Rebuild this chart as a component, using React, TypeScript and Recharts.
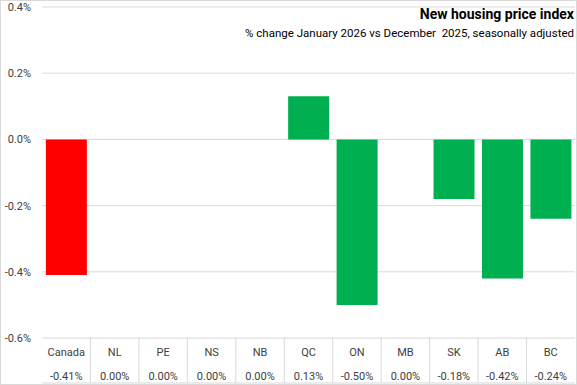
import React from 'react';
import { BarChart, Bar, Cell, XAxis, YAxis, CartesianGrid } from 'recharts';

const provinces = ['Canada', 'NL', 'PE', 'NS', 'NB', 'QC', 'ON', 'MB', 'SK', 'AB', 'BC'];
const monthlyChange = [-0.41, 0.0, 0.0, 0.0, 0.0, 0.13, -0.5, 0.0, -0.18, -0.42, -0.24];
const yTicks = [-0.6, -0.4, -0.2, 0, 0.2, 0.4];

const chartData = provinces.map((p, i) => ({ name: p, change: monthlyChange[i] }));

const WIDTH = 577;
const HEIGHT = 385;
const Y_AXIS_W = 42;
const RIGHT = 2;
const BAND = (WIDTH - Y_AXIS_W - RIGHT) / provinces.length;
const FONT = 'Roboto, "Noto Sans", sans-serif';

const TableTick = (props: any) => {
  const { x, y, payload, index } = props;
  const half = BAND / 2;
  const v = monthlyChange[index];
  return (
    <g>
      <text x={x} y={y + 18} textAnchor="middle" fontSize={11} fill="#404040" fontFamily={FONT}>
        {payload.value}
      </text>
      <text x={x} y={y + 42} textAnchor="middle" fontSize={11} fill="#404040" fontFamily={FONT}>
        {v.toFixed(2) + '%'}
      </text>
      {index < provinces.length - 1 && (
        <line x1={x + half} x2={x + half} y1={y} y2={y + 45} stroke="#d9d9d9" />
      )}
      <line x1={x - half} x2={x + half} y1={y + 45} y2={y + 45} stroke="#d9d9d9" />
    </g>
  );
};

export default function App() {
  return (
    <div
      style={{
        position: 'absolute',
        left: 0,
        top: 0,
        width: WIDTH,
        height: HEIGHT,
        boxSizing: 'border-box',
        border: '1px solid #d9d9d9',
        background: '#fff',
        fontFamily: FONT,
      }}
    >
      <BarChart
        width={WIDTH - 2}
        height={HEIGHT - 2}
        data={chartData}
        margin={{ top: 6, right: RIGHT - 1, left: -1, bottom: 1 }}
        barCategoryGap="8%"
        style={{ position: 'absolute', left: 0, top: 0 }}
      >
        <CartesianGrid vertical={false} stroke="#d9d9d9" />
        <YAxis
          width={Y_AXIS_W}
          domain={[-0.6, 0.4]}
          ticks={yTicks}
          axisLine={false}
          tickLine={false}
          tickSize={0}
          tickMargin={11}
          tick={{ fontSize: 11, fill: '#404040', fontFamily: FONT }}
          tickFormatter={(v: number) => v.toFixed(1) + '%'}
          interval={0}
        />
        <XAxis
          dataKey="name"
          height={45}
          axisLine={false}
          tickLine={false}
          tickSize={0}
          tickMargin={0}
          interval={0}
          tick={<TableTick />}
        />
        <Bar dataKey="change" isAnimationActive={false}>
          {chartData.map((d, i) => (
            <Cell key={d.name} fill={i === 0 ? '#ff0000' : '#00b050'} />
          ))}
        </Bar>
      </BarChart>
      <div
        style={{
          position: 'absolute',
          right: 2,
          top: 5,
          fontSize: 14,
          fontWeight: 700,
          color: '#000',
          whiteSpace: 'nowrap',
        }}
      >
        New housing price index
      </div>
      <div
        style={{
          position: 'absolute',
          right: 2,
          top: 25,
          fontSize: 11.5,
          color: '#000',
          whiteSpace: 'pre',
        }}
      >
        % change January 2026 vs December  2025, seasonally adjusted
      </div>
    </div>
  );
}
